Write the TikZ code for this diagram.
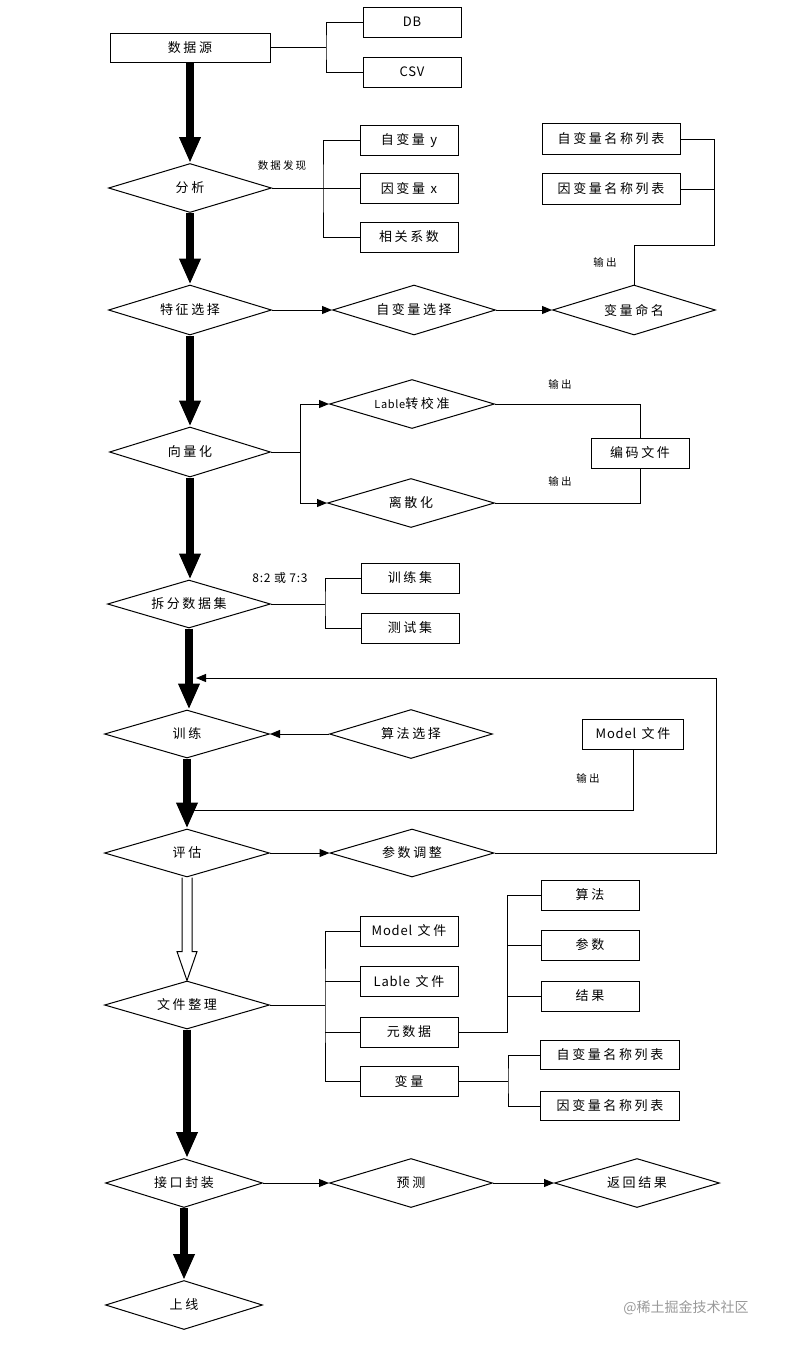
\documentclass[tikz,border=0pt]{standalone}
\usepackage{fontspec}
\setmainfont{Noto Sans CJK SC}[LetterSpace=20]
\newfontfamily\wmfont{Noto Sans CJK SC}
\newfontfamily\lat{Noto Sans CJK SC}[LetterSpace=6]
\usetikzlibrary{shapes.geometric,arrows.meta,calc}
\begin{document}
\begin{tikzpicture}[x=1pt,y=-1pt,
 every node/.style={font=\fontsize{13}{15}\selectfont, inner sep=0pt},
 box/.style={draw, line width=1pt, minimum width=98pt, minimum height=30pt},
 dia/.style={draw, diamond, aspect=3.3, line width=1pt, minimum width=163pt, minimum height=49pt},
 ln/.style={line width=1pt},
 arr/.style={line width=1pt, -{Triangle[length=10pt,width=8pt]}},
 big/.style={line width=8pt, -{Triangle[length=26pt,width=20pt]}},
 lbl/.style={font=\fontsize{10.5}{12}\selectfont}]
\useasboundingbox (0,0) rectangle (786,1345);
% nodes
\node[box, minimum width=160pt, minimum height=29pt] (src) at (190,47.5) {数据源};
\node[box] (db) at (412,22) {\lat DB};
\node[box] (csv) at (412,72) {\lat CSV};
\node[dia] (ana) at (190,188) {分析};
\node[box] (vy) at (409,140) {自变量 {\lat y}};
\node[box] (vx) at (409,188.5) {因变量 {\lat x}};
\node[box] (cor) at (409,237) {相关系数};
\node[lbl] (lfind) at (282,165) {数据发现};
\node[box, minimum width=138pt, minimum height=31pt] (nl1) at (611,139) {自变量名称列表};
\node[box, minimum width=138pt, minimum height=31pt] (nl2) at (611,189) {因变量名称列表};
\node[lbl] (lout1) at (605,262) {输出};
\node[dia, minimum height=50pt] (feat) at (190,310) {特征选择};
\node[dia, minimum height=50pt] (sel) at (414,310) {自变量选择};
\node[dia, minimum height=50pt] (vname) at (634,310) {变量命名};
\node[dia, minimum width=161pt, minimum height=50pt] (vec) at (190,452) {向量化};
\node[dia, minimum width=165pt] (lab) at (412,404) {{\lat\fontsize{11}{13}\selectfont Lable}转校准};
\node[dia, minimum width=167pt] (disc) at (411,503) {离散化};
\node[box] (enc) at (640,453) {编码文件};
\node[lbl] (lout2) at (560,384) {输出};
\node[lbl] (lout3) at (560,481) {输出};
\node[dia, minimum height=48pt] (split) at (189,604) {拆分数据集};
\node[font=\lat\fontsize{12}{14}\selectfont] (ratio) at (280,578) {8:2 或 7:3};
\node[box] (trs) at (410,578) {训练集};
\node[box] (tes) at (410,628) {测试集};
\node[dia, minimum width=165pt, minimum height=48pt] (train) at (187,734) {训练};
\node[dia] (algsel) at (411,734) {算法选择};
\node[box, minimum width=101pt] (mf1) at (633,734) {{\lat Model} 文件};
\node[lbl] (lout4) at (588,778) {输出};
\node[dia, minimum width=165pt, minimum height=48pt] (eval) at (187,853) {评估};
\node[dia, minimum width=164pt, minimum height=48pt] (tune) at (412,853) {参数调整};
\node[dia, minimum width=165pt, minimum height=48pt] (org) at (187,1005) {文件整理};
\node[box] (mf2) at (409,931) {{\lat Model} 文件};
\node[box] (lf) at (409,981) {{\lat Lable} 文件};
\node[box] (meta) at (409,1032) {元数据};
\node[box] (var) at (409,1081) {变量};
\node[box] (alg) at (590,895) {算法};
\node[box] (par) at (590,945) {参数};
\node[box] (res) at (590,996) {结果};
\node[box, minimum width=139pt, minimum height=29pt] (vl1) at (610,1055) {自变量名称列表};
\node[box, minimum width=139pt, minimum height=29pt] (vl2) at (610,1106) {因变量名称列表};
\node[dia, minimum width=157pt] (api) at (184,1183) {接口封装};
\node[dia] (pred) at (411,1183) {预测};
\node[dia, minimum width=165pt] (ret) at (637,1183) {返回结果};
\node[dia, minimum width=157pt] (online) at (184,1305) {上线};
\node[font=\wmfont\fontsize{14}{16}\selectfont, text=black!40] (wm) at (686,1308) {@稀土掘金技术社区};
% coordinates
\coordinate (j1) at (326,47.5);
\coordinate (ja) at (323,188);
\coordinate (jn) at (714,245);
\coordinate (jv) at (300,452);
\coordinate (js) at (325,604);
\coordinate (jf1) at (716,853);
\coordinate (jf2) at (716,678);
\coordinate (fbin) at (196,678);
\coordinate (fbm) at (191,810);
\coordinate (jo) at (325,1005);
\coordinate (jm) at (507,1032);
\coordinate (jr) at (508,1081);
% main flow
\draw[big] (src.south) -- (src.south |- ana.north);
\draw[big] (ana.south) -- (ana.south |- feat.north);
\draw[big] (feat.south) -- (feat.south |- vec.north);
\draw[big] (vec.south) -- (vec.south |- split.north);
\draw[big] (split.south) -- (split.south |- train.north);
\draw[big] (train.south) -- (train.south |- eval.north);
\draw[big] (org.south) -- (org.south |- api.north);
\draw[big] (api.south) -- (api.south |- online.north);
\draw[ln, fill=white] ($(eval.south)+(-5,0)$) -- ($(org.north)+(-5,-29)$) -- ($(org.north)+(-10,-29)$) -- (org.north) -- ($(org.north)+(10,-29)$) -- ($(org.north)+(5,-29)$) -- ($(eval.south)+(5,0)$);
% branches
\draw[ln] (src.east) -- (j1);
\draw[ln] (db.west) -| (j1) |- (csv.west);
\draw[ln] (ana.east) -- (ja);
\draw[ln] (vy.west) -| (ja) |- (cor.west);
\draw[ln] (vx.west) -- (vx.west -| ja);
\draw[ln] (nl1.east) -| (jn) -| (vname.north);
\draw[ln] (nl2.east) -- (nl2.east -| jn);
\draw[arr] (feat.east) -- (sel.west);
\draw[arr] (sel.east) -- (vname.west);
\draw[ln] (vec.east) -- (jv);
\draw[arr] (jv) |- (lab.west);
\draw[arr] (jv) |- (disc.west);
\draw[ln] (lab.east) -| (enc.north);
\draw[ln] (disc.east) -| (enc.south);
\draw[ln] (split.east) -- (js);
\draw[ln] (trs.west) -| (js) |- (tes.west);
\draw[arr] (tune.east) -- (jf1) -- (jf2) -- (fbin);
\draw[arr] (algsel.west) -- (train.east);
\draw[ln] (mf1.south) |- (fbm);
\draw[arr] (eval.east) -- (tune.west);
\draw[ln] (org.east) -- (jo);
\draw[ln] (mf2.west) -| (jo) |- (var.west);
\draw[ln] (lf.west) -- (lf.west -| jo);
\draw[ln] (meta.west) -- (meta.west -| jo);
\draw[ln] (meta.east) -- (jm) |- (alg.west);
\draw[ln] (par.west) -- (par.west -| jm);
\draw[ln] (res.west) -- (res.west -| jm);
\draw[ln] (var.east) -- (jr);
\draw[ln] (vl1.west) -| (jr) |- (vl2.west);
\draw[arr] (api.east) -- (pred.west);
\draw[arr] (pred.east) -- (ret.west);
\end{tikzpicture}
\end{document}
